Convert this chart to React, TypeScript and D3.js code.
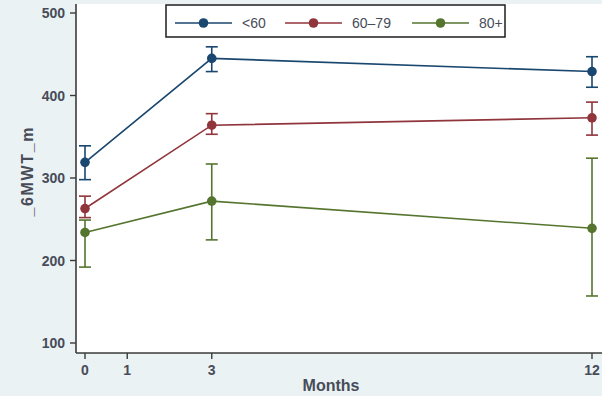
import React from "react";
import * as d3 from "d3";

// Six-minute walk test (m) by age group, mean with 95% CI
const months = [0, 3, 12];
const groups = ["<60", "60–79", "80+"];
const groupColors = ["#1a476f", "#90353b", "#55752f"];
const meanValues = [
  [319, 445, 429],
  [263, 364, 373],
  [234, 272, 239],
];
const lowerValues = [
  [298, 429, 410],
  [252, 353, 352],
  [192, 225, 157],
];
const upperValues = [
  [339, 459, 447],
  [278, 378, 392],
  [249, 317, 324],
];
const xTicks = [0, 1, 3, 12];
const yTicks = [100, 200, 300, 400, 500];

const W = 602;
const H = 396;

export default function App() {
  const x = d3.scaleLinear().domain([0, 12]).range([85, 592]);
  const y = d3.scaleLinear().domain([100, 500]).range([343, 13]);
  const line = d3
    .line<number>()
    .x((_, i) => x(months[i]))
    .y((d) => y(d));

  const font = "Liberation Sans, Arial, sans-serif";
  const textColor = "#474c58";
  const plotLeft = 76;
  const plotTop = 4;
  const plotBottom = 353;

  const legendItems = [
    { x0: 175, label: groups[0] },
    { x0: 285, label: groups[1] },
    { x0: 412, label: groups[2] },
  ];

  return (
    <svg
      width={W}
      height={H}
      style={{ position: "absolute", left: 0, top: 0, display: "block" }}
    >
      <rect x={0} y={0} width={W} height={H} fill="#eaf2f3" />
      <rect
        x={plotLeft}
        y={plotTop}
        width={W - plotLeft}
        height={plotBottom - plotTop}
        fill="#ffffff"
      />

      {/* series: lines, CI whiskers, markers */}
      {groups.map((g, gi) => (
        <g key={g}>
          <path
            d={line(meanValues[gi]) ?? ""}
            fill="none"
            stroke={groupColors[gi]}
            strokeWidth={1.6}
          />
          {months.map((m, i) => (
            <g key={m} stroke={groupColors[gi]} strokeWidth={1.6}>
              <line
                x1={x(m)}
                x2={x(m)}
                y1={y(lowerValues[gi][i])}
                y2={y(upperValues[gi][i])}
              />
              <line
                x1={x(m) - 6}
                x2={x(m) + 6}
                y1={y(lowerValues[gi][i])}
                y2={y(lowerValues[gi][i])}
              />
              <line
                x1={x(m) - 6}
                x2={x(m) + 6}
                y1={y(upperValues[gi][i])}
                y2={y(upperValues[gi][i])}
              />
            </g>
          ))}
          {months.map((m, i) => (
            <circle
              key={"c" + m}
              cx={x(m)}
              cy={y(meanValues[gi][i])}
              r={4.8}
              fill={groupColors[gi]}
            />
          ))}
        </g>
      ))}

      {/* axes */}
      <line
        x1={plotLeft}
        x2={plotLeft}
        y1={plotTop}
        y2={plotBottom}
        stroke="#3b3b3b"
        strokeWidth={1.6}
      />
      <line
        x1={plotLeft}
        x2={W}
        y1={plotBottom}
        y2={plotBottom}
        stroke="#3b3b3b"
        strokeWidth={1.6}
      />
      {yTicks.map((t) => (
        <g key={t}>
          <line
            x1={plotLeft - 6}
            x2={plotLeft}
            y1={y(t)}
            y2={y(t)}
            stroke="#3b3b3b"
            strokeWidth={1.4}
          />
          <text
            x={plotLeft - 11}
            y={y(t)}
            dy="0.36em"
            textAnchor="end"
            fontFamily={font}
            fontSize={14}
            fontWeight="bold"
            fill={textColor}
          >
            {t}
          </text>
        </g>
      ))}
      {xTicks.map((t) => (
        <g key={t}>
          <line
            x1={x(t)}
            x2={x(t)}
            y1={plotBottom}
            y2={plotBottom + 6}
            stroke="#3b3b3b"
            strokeWidth={1.4}
          />
          <text
            x={x(t)}
            y={plotBottom + 22}
            textAnchor="middle"
            fontFamily={font}
            fontSize={14}
            fontWeight="bold"
            fill={textColor}
          >
            {t}
          </text>
        </g>
      ))}
      <text
        x={331}
        y={391}
        textAnchor="middle"
        fontFamily={font}
        fontSize={16}
        fontWeight="bold"
        fill={textColor}
      >
        Months
      </text>
      <text
        transform="translate(33,172) rotate(-90)"
        textAnchor="middle"
        fontFamily={font}
        fontSize={16}
        fontWeight="bold"
        fill={textColor}
        textLength={89}
        lengthAdjust="spacing"
      >
        _6MWT_m
      </text>

      {/* legend */}
      <rect
        x={166}
        y={5}
        width={339}
        height={32}
        fill="#ffffff"
        stroke="#1e1e1e"
        strokeWidth={1.5}
      />
      {legendItems.map((it, i) => (
        <g key={it.label}>
          <line
            x1={it.x0}
            x2={it.x0 + 57}
            y1={23}
            y2={23}
            stroke={groupColors[i]}
            strokeWidth={1.6}
          />
          <circle cx={it.x0 + 28.5} cy={23} r={4.8} fill={groupColors[i]} />
          <text
            x={it.x0 + 67}
            y={23}
            dy="0.36em"
            fontFamily={font}
            fontSize={14}
            fill={textColor}
          >
            {it.label}
          </text>
        </g>
      ))}
    </svg>
  );
}
